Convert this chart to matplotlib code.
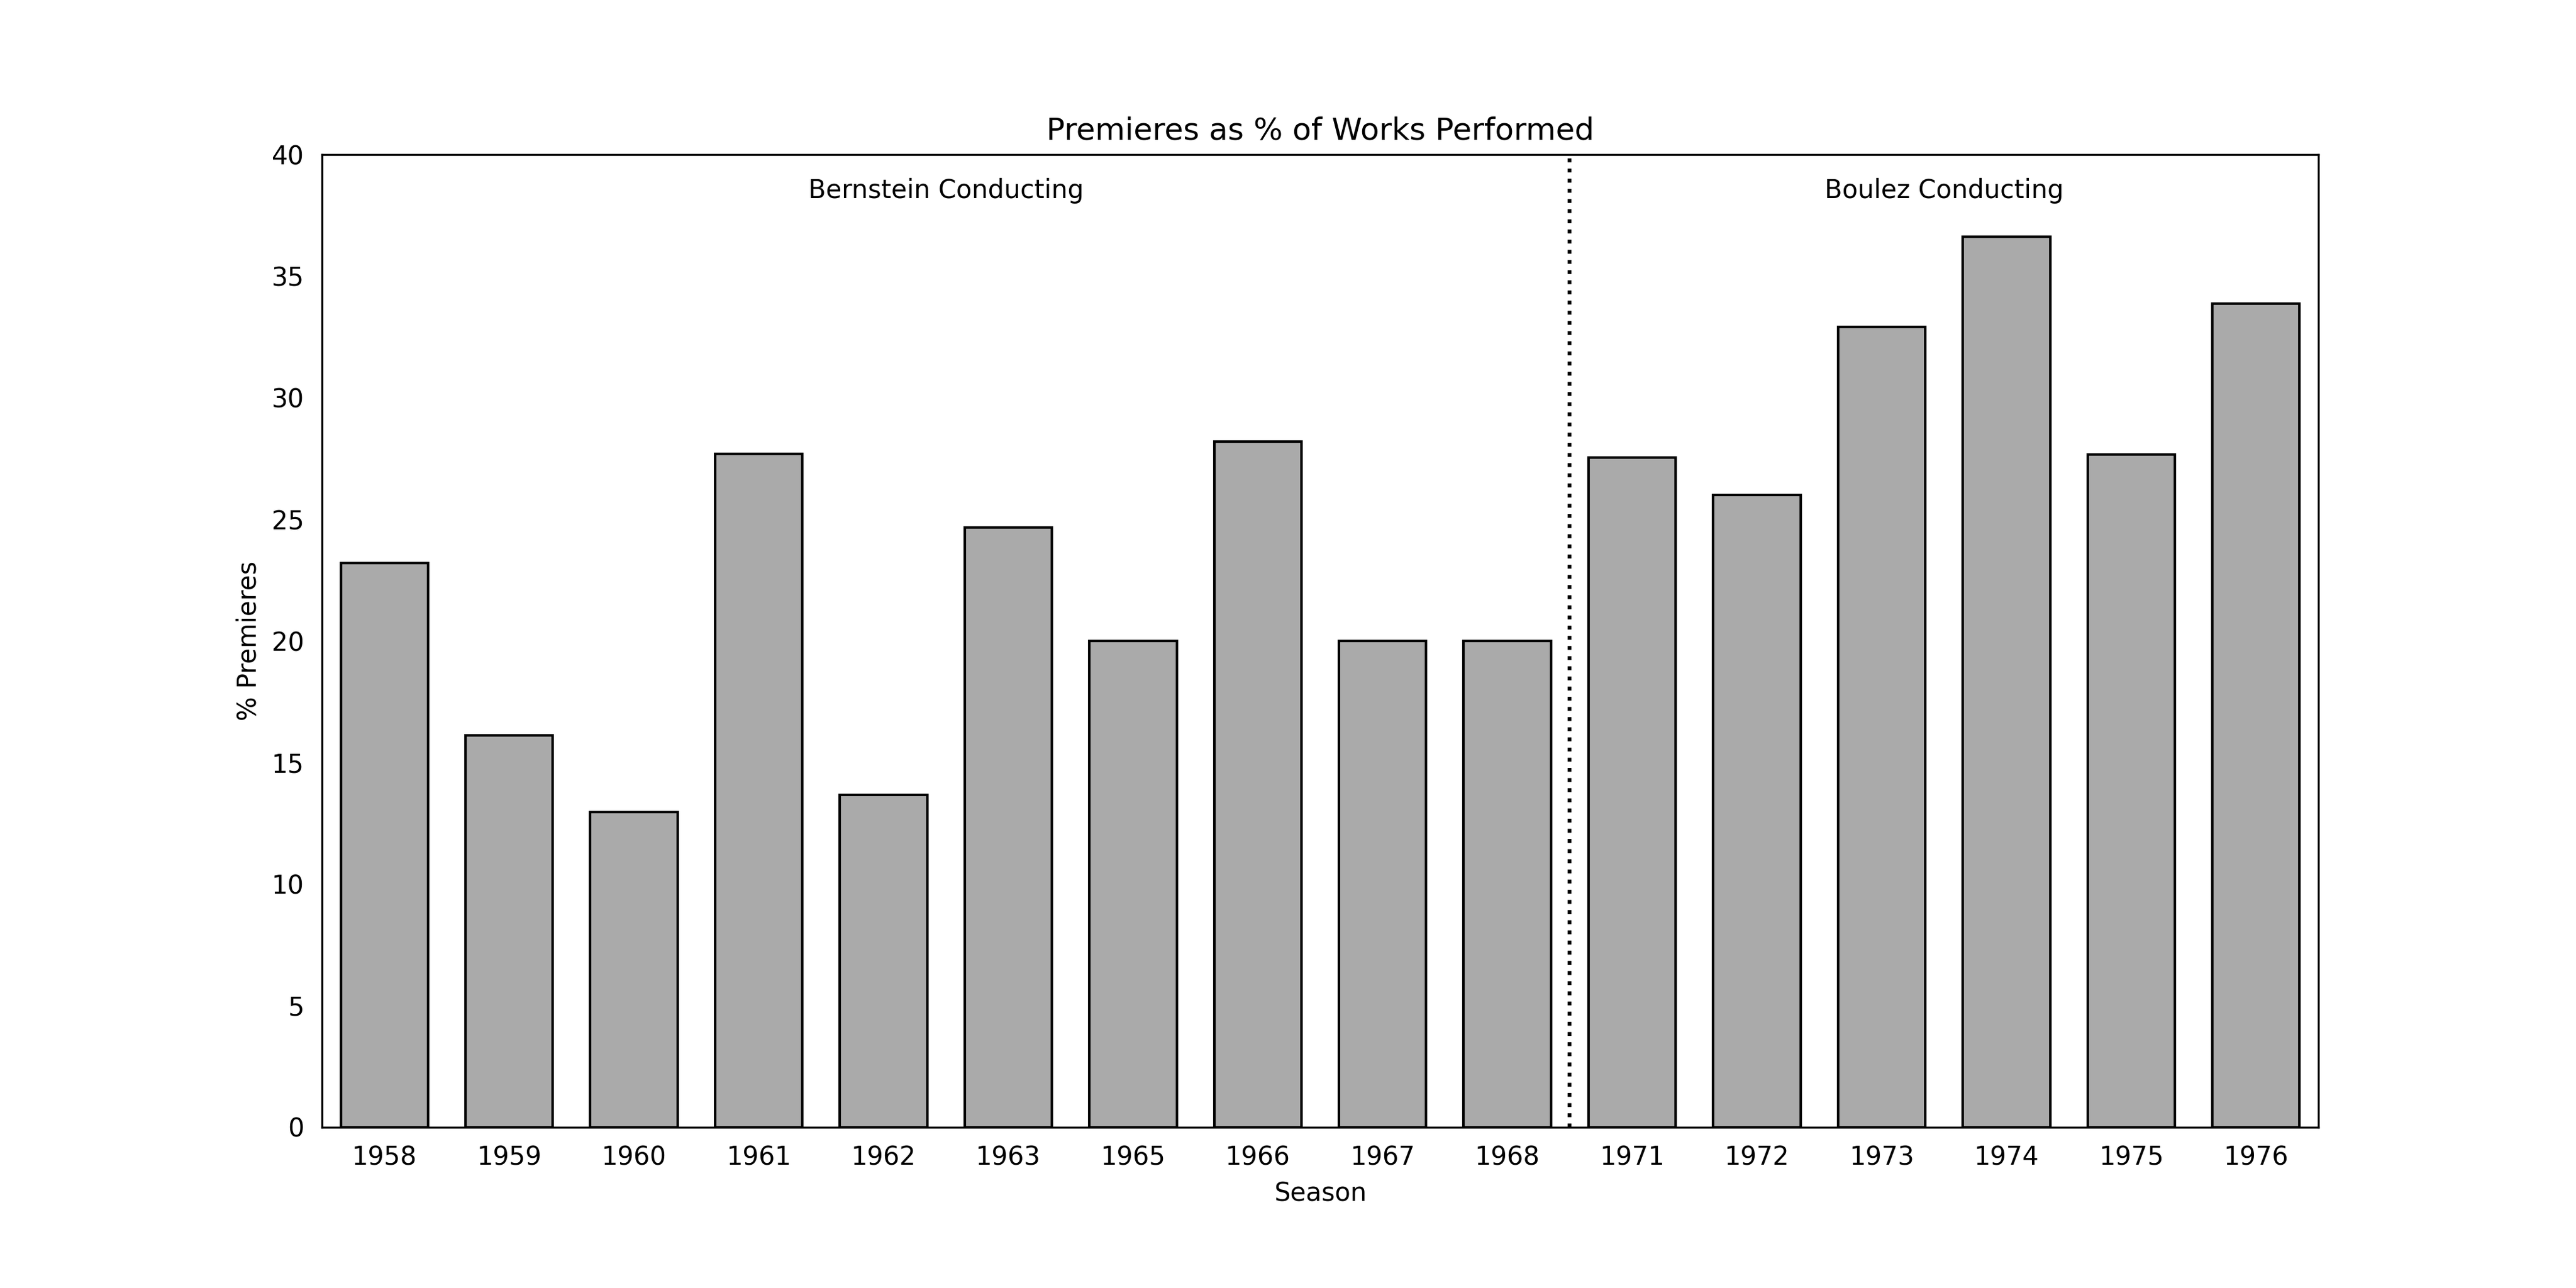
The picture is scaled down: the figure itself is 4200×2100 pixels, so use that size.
import matplotlib
matplotlib.use("Agg")
import matplotlib.pyplot as plt
import numpy as np

seasons = ["1958", "1959", "1960", "1961", "1962", "1963", "1965", "1966",
           "1967", "1968", "1971", "1972", "1973", "1974", "1975", "1976"]
pct_premieres = [23.2, 16.1, 12.95, 27.7, 13.65, 24.67, 20.0, 28.19,
                 20.0, 20.0, 27.53, 26.0, 32.9, 36.61, 27.66, 33.88]
conductor_labels = ["Bernstein Conducting", "Boulez Conducting"]

fig = plt.figure(figsize=(14, 7), dpi=300)
ax = fig.add_subplot(111)
fig.subplots_adjust(left=0.125, right=0.9, top=0.88, bottom=0.125)

x = np.arange(len(seasons))
ax.bar(x, pct_premieres, width=0.7, color="#aaaaaa", edgecolor="black", linewidth=1.0)

ax.set_xlim(-0.5, len(seasons) - 0.5)
ax.set_ylim(0, 40)
ax.set_xticks(x)
ax.set_xticklabels(seasons)
ax.set_yticks(np.arange(0, 41, 5))
ax.tick_params(length=0, pad=7, labelsize=10)
for s in ax.spines.values():
    s.set_linewidth(0.8)

ax.axvline(9.5, color="black", linestyle=":", linewidth=1.5)
ax.text(4.5, 38.5, conductor_labels[0], ha="center", va="center", fontsize=10)
ax.text(12.5, 38.5, conductor_labels[1], ha="center", va="center", fontsize=10)

ax.set_title("Premieres as % of Works Performed", fontsize=12)
ax.set_xlabel("Season", fontsize=10)
ax.set_ylabel("% Premieres", fontsize=10)

fig.savefig("out.png", dpi=300)
